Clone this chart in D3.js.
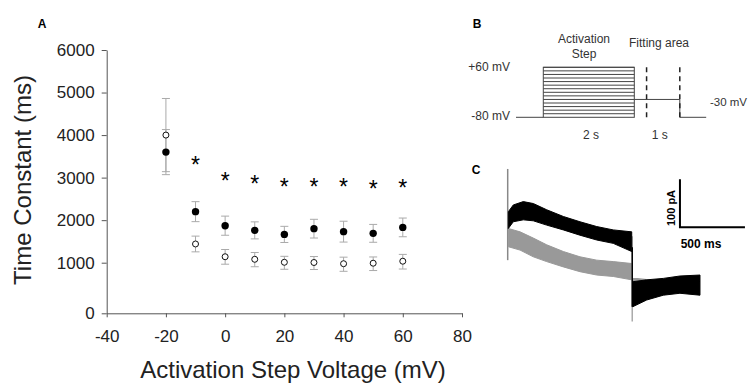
<!DOCTYPE html>
<html>
<head>
<meta charset="utf-8">
<script src="https://cdn.jsdelivr.net/npm/d3@7"></script>
<style>
  body { margin: 0; background: #fff; }
  svg { display: block; font-family: "Liberation Sans", Arial, sans-serif; }
</style>
</head>
<body>
<div id="chart"></div>
<script>
// ---- panel A data ----
const voltages = [-20, -10, 0, 10, 20, 30, 40, 50, 60];
const filledMean = [3600, 2200, 1870, 1760, 1665, 1800, 1730, 1690, 1830];
const filledErr = [530, 235, 225, 200, 190, 220, 245, 210, 220];
const openMean = [4000, 1440, 1140, 1080, 1010, 1005, 980, 990, 1035];
const openErr = [860, 185, 170, 160, 140, 140, 150, 145, 160];
const starVoltages = [-10, 0, 10, 20, 30, 40, 50, 60];
const starLevels = [3410, 3020, 2970, 2900, 2900, 2880, 2850, 2865];
const yTicks = [0, 1000, 2000, 3000, 4000, 5000, 6000];
const xTicks = [-40, -20, 0, 20, 40, 60, 80];

// ---- panel B protocol (s, mV) ----
const stepLevels = [-70, -60, -50, -40, -30, -20, -10, 0, 10, 20, 30, 40, 50, 60];
const holdingPath = [[-0.6, -80], [0, -80]];
const tailPath = [[2, -30], [3, -30], [3, -80], [3.58, -80]];
const fitMarks = [2.27, 3];

// ---- panel C traces (ms, pA) ----
const blackTimes = [5, 43, 120, 197, 300, 428, 556, 685, 812, 954];
const blackUpper = [184, 198, 205, 201, 188, 174, 163, 153, 146, 142];
const blackLower = [149, 163, 167, 165, 156, 146, 135, 125, 118, 101];
const grayTimes = [5, 95, 197, 300, 428, 556, 685, 812, 954];
const grayUpper = [149, 142, 129, 115, 101, 90, 83, 80, 76];
const grayLower = [111, 104, 90, 80, 69, 59, 52, 49, 42];
const tailTimes = [962, 1069, 1197, 1325, 1479];
const tailUpper = [38, 42, 45, 50, 52];
const tailLower = [-14, 0, 10, 14, 10];
const grayTailTimes = [962, 1000, 1069];
const grayTailUpper = [46, 46, 44];
const grayTailLower = [22, 28, 34];

const W = 749, H = 383;
const svg = d3.select("#chart").append("svg")
  .attr("width", W).attr("height", H);

const plain = d => String(d);

// ================= panel A =================
const x = d3.scaleLinear().domain([-40, 80]).range([106.7, 462]);
const y = d3.scaleLinear().domain([0, 1000, 6000]).range([313.3, 262.7, 50]);

const yAxis = svg.append("g")
  .attr("transform", "translate(106.7,0)")
  .call(d3.axisLeft(y).tickValues(yTicks).tickFormat(plain)
    .tickSize(5).tickSizeOuter(0).tickPadding(7));
yAxis.select(".domain").attr("stroke", "#555");
yAxis.selectAll("line").attr("stroke", "#555");
yAxis.selectAll("text").attr("font-size", 17).attr("fill", "#222")
  .attr("font-family", "Liberation Sans, Arial, sans-serif");

const xAxis = svg.append("g")
  .attr("transform", "translate(0,313.3)")
  .call(d3.axisBottom(x).tickValues(xTicks).tickFormat(plain)
    .tickSize(4).tickSizeOuter(0).tickPadding(13));
xAxis.select(".domain").attr("stroke", "#555");
xAxis.selectAll("line").attr("stroke", "#555");
xAxis.selectAll("text").attr("font-size", 17).attr("fill", "#222")
  .attr("font-family", "Liberation Sans, Arial, sans-serif");

svg.append("text")
  .attr("transform", "translate(31,180) rotate(-90)")
  .attr("text-anchor", "middle").attr("font-size", 24).attr("fill", "#222")
  .text("Time Constant (ms)");
svg.append("text")
  .attr("x", 293).attr("y", 378)
  .attr("text-anchor", "middle").attr("font-size", 24).attr("fill", "#222")
  .text("Activation Step Voltage (mV)");

function errorBars(means, errs) {
  const g = svg.append("g").attr("stroke", "#aaa").attr("stroke-width", 1);
  voltages.forEach((v, i) => {
    const px = x(v), y1 = y(means[i] + errs[i]), y2 = y(means[i] - errs[i]);
    g.append("line").attr("x1", px).attr("x2", px).attr("y1", y1).attr("y2", y2);
    g.append("line").attr("x1", px - 4).attr("x2", px + 4).attr("y1", y1).attr("y2", y1);
    g.append("line").attr("x1", px - 4).attr("x2", px + 4).attr("y1", y2).attr("y2", y2);
  });
}
errorBars(openMean, openErr);
errorBars(filledMean, filledErr);

svg.append("g").selectAll("circle").data(voltages).join("circle")
  .attr("cx", d => x(d)).attr("cy", (d, i) => y(openMean[i]))
  .attr("r", 3).attr("fill", "#fff").attr("stroke", "#111").attr("stroke-width", 1);
svg.append("g").selectAll("circle").data(voltages).join("circle")
  .attr("cx", d => x(d)).attr("cy", (d, i) => y(filledMean[i]))
  .attr("r", 3.7).attr("fill", "#000");

const starSize = 23;
svg.append("g").selectAll("text").data(starVoltages).join("text")
  .attr("x", d => x(d)).attr("y", (d, i) => y(starLevels[i]) + 0.55 * starSize)
  .attr("text-anchor", "middle").attr("font-size", starSize).attr("fill", "#000")
  .text("*");

svg.append("text").attr("x", 42).attr("y", 28).attr("text-anchor", "middle")
  .attr("font-size", 12).attr("font-weight", "bold").text("A");

// ================= panel B =================
const tx = d3.scaleLinear().domain([0, 2]).range([543.3, 634.3]);
const vy = d3.scaleLinear().domain([-80, 60]).range([117.3, 67.3]);
const pline = d3.line().x(d => tx(d[0])).y(d => vy(d[1]));
const gB = svg.append("g").attr("stroke", "#444").attr("stroke-width", 1).attr("fill", "none");

gB.append("path").attr("d", pline(holdingPath));
gB.append("rect")
  .attr("x", tx(0)).attr("y", vy(60))
  .attr("width", tx(2) - tx(0)).attr("height", vy(-80) - vy(60));
gB.selectAll("line.step").data(stepLevels).join("line").attr("class", "step")
  .attr("x1", tx(0)).attr("x2", tx(2)).attr("y1", d => vy(d)).attr("y2", d => vy(d));
gB.append("path").attr("d", pline(tailPath));
gB.selectAll("line.fit").data(fitMarks).join("line").attr("class", "fit")
  .attr("x1", d => tx(d)).attr("x2", d => tx(d))
  .attr("y1", vy(60)).attr("y2", vy(-80))
  .attr("stroke", "#222").attr("stroke-width", 1.5).attr("stroke-dasharray", "5,4");

const bText = (txt, px, py, anchor, size) => svg.append("text")
  .attr("x", px).attr("y", py).attr("text-anchor", anchor || "middle")
  .attr("font-size", size || 12).attr("fill", "#333").text(txt);
bText("Activation", 584, 43);
bText("Step", 584, 58);
bText("Fitting area", 659, 47);
bText("+60 mV", 510, vy(60) + 4, "end");
bText("-80 mV", 510, vy(-80) + 3, "end");
bText("-30 mV", 747, vy(-30) + 7, "end", 11.5);
bText("2 s", tx(1.05), 139);
bText("1 s", tx(2.56), 139);

svg.append("text").attr("x", 477).attr("y", 28).attr("text-anchor", "middle")
  .attr("font-size", 12).attr("font-weight", "bold").text("B");

// ================= panel C =================
const cx = d3.scaleLinear().domain([0, 500]).range([507.7, 572.7]);
const cy = d3.scaleLinear().domain([0, 100]).range([300, 252]);
const band = d3.area().x(d => cx(d[0])).y0(d => cy(d[1])).y1(d => cy(d[2]));
const zipBand = (t, lo, hi) => t.map((v, i) => [v, lo[i], hi[i]]);

// capacitive transients
svg.append("line").attr("x1", cx(0)).attr("x2", cx(0))
  .attr("y1", cy(273)).attr("y2", cy(83)).attr("stroke", "#888").attr("stroke-width", 1.5);

svg.append("path").attr("d", band(zipBand(grayTimes, grayLower, grayUpper)))
  .attr("fill", "#999").attr("stroke", "#999").attr("stroke-width", 1);
svg.append("line").attr("x1", cx(958)).attr("x2", cx(958))
  .attr("y1", cy(133)).attr("y2", cy(-45)).attr("stroke", "#aaa").attr("stroke-width", 1.5);
svg.append("path").attr("d", band(zipBand(grayTailTimes, grayTailLower, grayTailUpper)))
  .attr("fill", "#999");

svg.append("path").attr("d", band(zipBand(blackTimes, blackLower, blackUpper)))
  .attr("fill", "#000").attr("stroke", "#000").attr("stroke-width", 1);
svg.append("line").attr("x1", cx(958)).attr("x2", cx(958))
  .attr("y1", cy(110)).attr("y2", cy(-14)).attr("stroke", "#000").attr("stroke-width", 1.5);
svg.append("path").attr("d", band(zipBand(tailTimes, tailLower, tailUpper)))
  .attr("fill", "#000").attr("stroke", "#000").attr("stroke-width", 1);

// scale bar
const sb = svg.append("g").attr("stroke", "#000").attr("stroke-width", 2).attr("fill", "none");
sb.append("path").attr("d", d3.line()([[cx(1325), cy(251.5)], [cx(1325), cy(151.5)], [cx(1825), cy(151.5)]]));
svg.append("text").attr("transform", "translate(675,208) rotate(-90)")
  .attr("text-anchor", "middle").attr("font-size", 11).attr("font-weight", "bold").text("100 pA");
svg.append("text").attr("x", 701).attr("y", 248).attr("text-anchor", "middle")
  .attr("font-size", 12).attr("font-weight", "bold").text("500 ms");

svg.append("text").attr("x", 476).attr("y", 174).attr("text-anchor", "middle")
  .attr("font-size", 12).attr("font-weight", "bold").text("C");
</script>
</body>
</html>
